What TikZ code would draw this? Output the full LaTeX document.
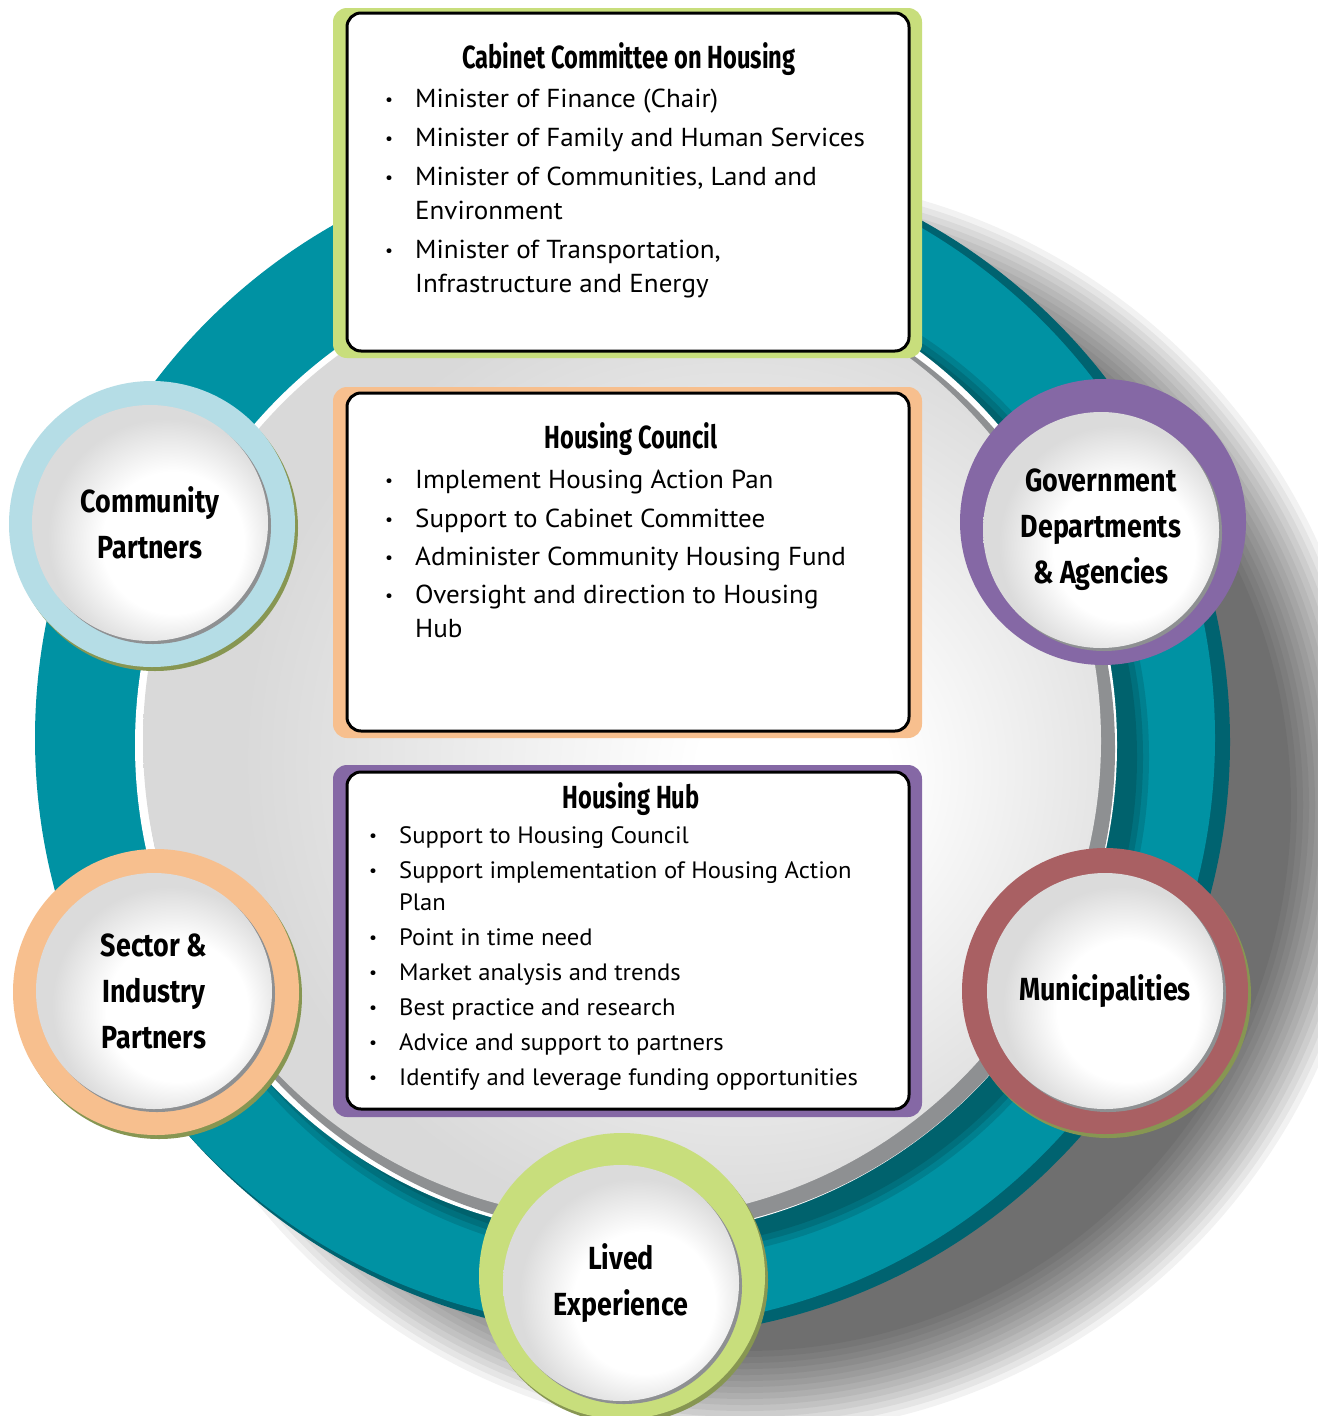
\documentclass[tikz,border=0pt]{standalone}
\usepackage{fontspec}
\setmainfont{PT Sans}[FakeStretch=1.04]
\newfontfamily\headfont{Fira Sans}[FakeStretch=0.74]
\newfontfamily\knobfont{Fira Sans}[FakeStretch=0.84]
\usetikzlibrary{
    shadows,
    positioning
}
\definecolor{ringteal}{RGB}{0,146,163}
\definecolor{ringdark}{RGB}{0,99,112}
\definecolor{cabgreen}{RGB}{200,222,124}
\definecolor{councilorange}{RGB}{247,191,142}
\definecolor{hubpurple}{RGB}{133,104,165}
\definecolor{commblue}{RGB}{181,221,230}
\definecolor{munirose}{RGB}{169,96,99}
\definecolor{rimolive}{RGB}{135,150,82}
\definecolor{diskshadow}{RGB}{142,144,146}
\pgfdeclareradialshading{bigdisk}{\pgfpoint{10bp}{-2bp}}{color(0bp)=(white); color(5bp)=(white); color(25bp)=(black!15); color(50bp)=(black!15)}
\pgfdeclareradialshading{knob}{\pgfpoint{7bp}{-6bp}}{color(0bp)=(white); color(15bp)=(white); color(25bp)=(black!14); color(50bp)=(black!14)}
\newcommand\bul{\raisebox{2pt}{\fontsize{17}{17}\selectfont\textbullet}}
\tikzset{knobflat/.style={circle, minimum size=286pt, inner sep=0pt}}
\tikzset{knobring/.style={knobflat, general shadow={fill=rimolive, shadow xshift=3pt, shadow yshift=-4pt}}}
\tikzset{knobdisk/.style={circle, minimum size=236pt, inner sep=0pt, shading=knob, general shadow={fill=diskshadow, shadow xshift=3pt, shadow yshift=-3pt}, align=center, font=\knobfont\bfseries\fontsize{32}{46}\selectfont}}
\tikzset{boxtitle/.style={anchor=base, inner sep=0pt, font=\headfont\bfseries\fontsize{32}{40}\selectfont}}
\tikzset{boxlist/.style={anchor=base west, inner sep=0pt, font=\fontsize{26}{34}\selectfont}}
\tikzset{hublist/.style={anchor=base west, inner sep=0pt, font=\fontsize{23.7}{32}\selectfont}}

\begin{document}
\begin{tikzpicture}[x=1pt, y=-1pt]
                    \fill[white] (0, 0) rectangle (1317, 1416);
                    \useasboundingbox (0, 0) rectangle (1317, 1416);

                    \foreach \r in {630, 624, ..., 546}
                        \fill[black, opacity=0.05] (745, 805) circle (\r);
                    \fill[ringdark] (635, 742) circle (595);
                    \fill[ringteal] (625, 738) circle (590);
                    \foreach \r in {504, 498, 492}
                        \fill[black, opacity=0.12] (645, 757) circle (\r);
                    \fill[white] (626, 745) circle (491);
                    \fill[diskshadow] (630, 749) circle (485);
                    \shade[shading=bigdisk] (622, 741) circle (479);

                    \draw[fill=cabgreen, draw=none, rounded corners=14pt] (333, 8) rectangle (922, 358);
                    \draw[fill=white, line width=3pt, rounded corners=14pt] (347, 13) rectangle (909, 351);
                    \draw[fill=councilorange, draw=none, rounded corners=14pt] (333, 387) rectangle (922, 738);
                    \draw[fill=white, line width=3pt, rounded corners=14pt] (347, 393) rectangle (909, 731);
                    \draw[fill=hubpurple, draw=none, rounded corners=14pt] (333, 765) rectangle (922, 1117);
                    \draw[fill=white, line width=3pt, rounded corners=14pt] (347, 772) rectangle (909, 1109);

                    \node[boxtitle] (cabtitle) at (629, 68) {Cabinet Committee on Housing};
                    \node[boxlist] (cablist) at (385, 107) {\begin{tabular}[t]{@{}p{30pt}@{}l@{}}
                        \bul & Minister of Finance (Chair)\\[5pt]
                        \bul & Minister of Family and Human Services\\[5pt]
                        \bul & Minister of Communities, Land and\\
                             & Environment\\[5pt]
                        \bul & Minister of Transportation,\\
                             & Infrastructure and Energy
                    \end{tabular}};

                    \node[boxtitle] (counciltitle) at (631, 448) {Housing Council};
                    \node[boxlist] (councillist) at (385, 488) {\begin{tabular}[t]{@{}p{30pt}@{}l@{}}
                        \bul & Implement Housing Action Pan\\[5pt]
                        \bul & Support to Cabinet Committee\\[4pt]
                        \bul & Administer Community Housing Fund\\[4pt]
                        \bul & Oversight and direction to Housing\\
                             & Hub
                    \end{tabular}};

                    \node[boxtitle] (hubtitle) at (631, 808) {Housing Hub};
                    \node[hublist] (hublist) at (369, 843) {\begin{tabular}[t]{@{}p{30pt}@{}l@{}}
                        \bul & Support to Housing Council\\[3pt]
                        \bul & Support implementation of Housing Action\\
                             & Plan\\[3pt]
                        \bul & Point in time need\\[3pt]
                        \bul & Market analysis and trends\\[3pt]
                        \bul & Best practice and research\\[3pt]
                        \bul & Advice and support to partners\\[3pt]
                        \bul & Identify and leverage funding opportunities
                    \end{tabular}};

                    \node[knobring, fill=commblue] (commring) at (152, 524) {};
                    \node[knobdisk] (comm) at (150, 523) {Community\\Partners};

                    \node[knobflat, fill=hubpurple] (govring) at (1103, 522) {};
                    \node[knobdisk] (gov) at (1101, 530) {Government\\Departments\\\& Agencies};

                    \node[knobring, fill=councilorange] (sectorring) at (156, 992) {};
                    \node[knobdisk] (sector) at (154, 991) {Sector \&\\Industry\\Partners};

                    \node[knobring, fill=munirose] (muniring) at (1105, 991) {};
                    \node[knobdisk] (muni) at (1105, 991) {Municipalities};

                    \node[knobring, fill=cabgreen] (livedring) at (622, 1276) {};
                    \node[knobdisk] (lived) at (621, 1283) {Lived\\Experience};
                \end{tikzpicture}
\end{document}
